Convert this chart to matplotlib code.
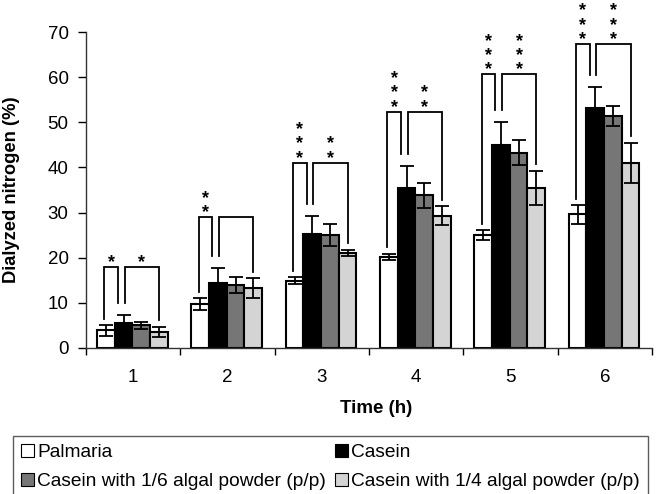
import matplotlib
matplotlib.use("Agg")
import matplotlib.pyplot as plt
import numpy as np
from matplotlib.patches import Patch

plt.rcParams['font.family'] = ['Liberation Sans', 'DejaVu Sans']

times = ['1', '2', '3', '4', '5', '6']
series_names = ['Palmaria', 'Casein',
                'Casein with 1/6 algal powder (p/p)',
                'Casein with 1/4 algal powder (p/p)']
palmaria = [3.9, 9.7, 14.9, 20.2, 25.0, 29.6]
palmaria_err = [1.2, 1.3, 0.8, 0.7, 1.1, 2.1]
casein = [5.6, 14.5, 25.3, 35.5, 44.9, 53.2]
casein_err = [1.8, 3.2, 4.0, 4.9, 5.2, 4.7]
casein16 = [5.0, 13.9, 25.0, 33.8, 43.3, 51.4]
casein16_err = [0.8, 1.8, 2.5, 2.7, 2.7, 2.3]
casein14 = [3.6, 13.2, 21.1, 29.3, 35.5, 41.0]
casein14_err = [1.1, 2.2, 0.7, 2.1, 3.8, 4.5]
sig_left = ['*', '**', '***', '***', '***', '***']
sig_right = ['*', '', '**', '**', '***', '***']
bracket_top = [18.0, 29.0, 41.0, 52.3, 60.6, 67.3]

values = [palmaria, casein, casein16, casein14]
errors = [palmaria_err, casein_err, casein16_err, casein14_err]
colors = ['white', 'black', '#767676', '#d4d4d4']

fig = plt.figure(figsize=(6.58, 4.94), dpi=100)
ax = fig.add_axes([86/658, 1-348/494, 566/658, 316/494])

x = np.arange(len(times))
w = 0.1875
offs = (np.arange(4) - 1.5) * w - 0.008
for i in range(4):
    ax.bar(x + offs[i], values[i], w, color=colors[i], edgecolor='black',
           linewidth=1.5, zorder=2)
    ax.errorbar(x + offs[i], values[i], yerr=errors[i], fmt='none',
                ecolor='black', elinewidth=1.3, capsize=5, capthick=1.3, zorder=3)

gap_side = 1.4
gap_mid = 2.6
lw = 1.3
for g in range(len(times)):
    top = bracket_top[g]
    xw = x[g] + offs[0] - 0.015
    xc1 = x[g] + offs[1] - 0.06
    xc2 = x[g] + offs[1] + 0.01
    xl = x[g] + offs[3]
    yw = palmaria[g] + palmaria_err[g] + gap_side
    yc = casein[g] + casein_err[g] + gap_mid
    yl = casein14[g] + casein14_err[g] + gap_side
    ax.plot([xw, xw, xc1, xc1], [yw, top, top, yc], color='black', lw=lw,
            clip_on=False, zorder=4, solid_joinstyle='miter')
    ax.plot([xc2, xc2, xl, xl], [yc, top, top, yl], color='black', lw=lw,
            clip_on=False, zorder=4, solid_joinstyle='miter')
    for s, cx in ((sig_left[g], (xw + xc1) / 2), (sig_right[g], (xc2 + xl) / 2)):
        if s:
            ax.text(cx, top - 0.9, '\n'.join(s), ha='center', va='bottom',
                    fontsize=13, fontweight='bold', linespacing=0.8, clip_on=False)

ax.set_xlim(-0.5, 5.5)
ax.set_ylim(0, 70)
ax.set_yticks(np.arange(0, 71, 10))
ax.tick_params(axis='y', labelsize=13.5, length=6, width=1, pad=6.5, direction='out')
ax.set_xticks(np.arange(-0.5, 5.6, 1.0))
ax.set_xticklabels([])
ax.set_xticks(x, minor=True)
ax.set_xticklabels(times, minor=True)
ax.tick_params(axis='x', which='major', length=5, width=1, direction='out')
ax.tick_params(axis='x', which='minor', length=0, labelsize=13.5, pad=15)
for sp in ['top', 'right']:
    ax.spines[sp].set_visible(False)
for sp in ['left', 'bottom']:
    ax.spines[sp].set_linewidth(1.0)
    ax.spines[sp].set_color('#333333')

ax.set_ylabel('Dialyzed nitrogen (%)', fontsize=13.2, fontweight='bold')
ax.yaxis.set_label_coords(-0.117, 0.5)
ax.set_xlabel('Time (h)', fontsize=13.5, fontweight='bold')
ax.xaxis.set_label_coords(0.513, -0.165)

handles = [Patch(facecolor=colors[i], edgecolor='black', linewidth=0.8) for i in range(4)]
order = [0, 2, 1, 3]
leg = fig.legend([handles[i] for i in order], [series_names[i] for i in order],
                 loc='upper left', bbox_to_anchor=(13/658, 1-436/494), ncol=2,
                 fontsize=13.8, frameon=True, fancybox=False, edgecolor='#333333',
                 borderaxespad=0, handlelength=0.7, handleheight=0.7,
                 handletextpad=0.15, columnspacing=0.45, labelspacing=0.6,
                 borderpad=0.42)
leg.get_frame().set_linewidth(1.0)

fig.savefig('out.png', dpi=100)
